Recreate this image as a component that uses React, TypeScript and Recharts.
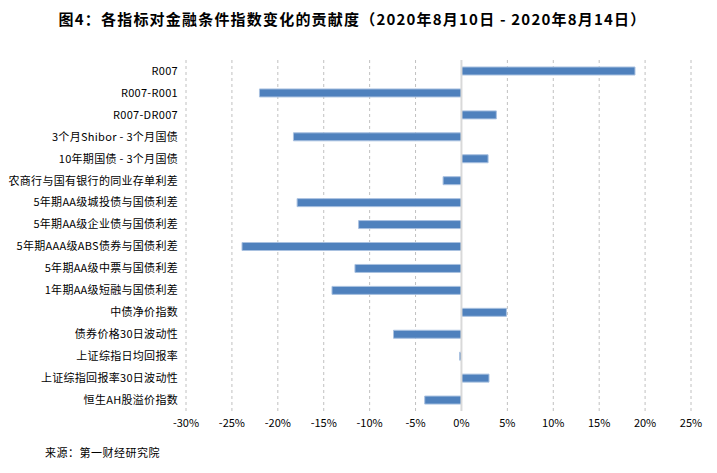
import { Bar, BarChart, CartesianGrid, ReferenceLine, XAxis, YAxis } from "recharts";

const FONT = '"Noto Sans CJK SC", "Noto Sans", sans-serif';

const categories = [
  "R007",
  "R007-R001",
  "R007-DR007",
  "3个月Shibor - 3个月国债",
  "10年期国债 - 3个月国债",
  "农商行与国有银行的同业存单利差",
  "5年期AA级城投债与国债利差",
  "5年期AA级企业债与国债利差",
  "5年期AAA级ABS债券与国债利差",
  "5年期AA级中票与国债利差",
  "1年期AA级短融与国债利差",
  "中债净价指数",
  "债券价格30日波动性",
  "上证综指日均回报率",
  "上证综指回报率30日波动性",
  "恒生AH股溢价指数"
];

const contribution = [18.9, -22.0, 3.8, -18.3, 2.9, -2.0, -17.9, -11.2, -23.9, -11.6, -14.1, 4.9, -7.4, -0.2, 3.0, -4.0];

const xTicks = [-30, -25, -20, -15, -10, -5, 0, 5, 10, 15, 20, 25];

const data = categories.map((name, i) => ({ name, value: contribution[i] }));

export default function App() {
  return (
    <div style={{ position: "relative", width: 717, height: 473, margin: -8, background: "#fff", fontFamily: FONT }}>
      <div
        style={{
          position: "absolute",
          top: 8,
          left: -6,
          width: 717,
          textAlign: "center",
          fontSize: 15,
          fontWeight: 700,
          letterSpacing: 1.2,
          color: "#000"
        }}
      >
        图4：各指标对金融条件指数变化的贡献度（2020年8月10日 - 2020年8月14日）
      </div>
      <BarChart
        width={717}
        height={473}
        data={data}
        layout="vertical"
        margin={{ top: 60, right: 26, left: 0, bottom: 42 }}
      >
        <CartesianGrid horizontal={false} strokeDasharray="3 3" stroke="#c0c0c0" />
        <XAxis
          type="number"
          domain={[-30, 25]}
          ticks={xTicks}
          tickFormatter={(v) => `${v}%`}
          axisLine={false}
          tickLine={false}
          height={20}
          tick={{ fontSize: 11, fill: "#000", fontFamily: FONT }}
        />
        <YAxis
          type="category"
          dataKey="name"
          width={186}
          interval={0}
          axisLine={false}
          tickLine={false}
          tick={{ fontSize: 11, fill: "#000", fontFamily: FONT, letterSpacing: 0.3 }}
        />
        <ReferenceLine x={0} stroke="#d9d9d9" strokeWidth={2} />
        <Bar dataKey="value" fill="#4F81BD" stroke="#A9C1E0" strokeWidth={1} barSize={8} isAnimationActive={false} />
      </BarChart>
      <div style={{ position: "absolute", left: 45, top: 444, fontSize: 11, letterSpacing: 0.5, color: "#000" }}>
        来源：第一财经研究院
      </div>
    </div>
  );
}
